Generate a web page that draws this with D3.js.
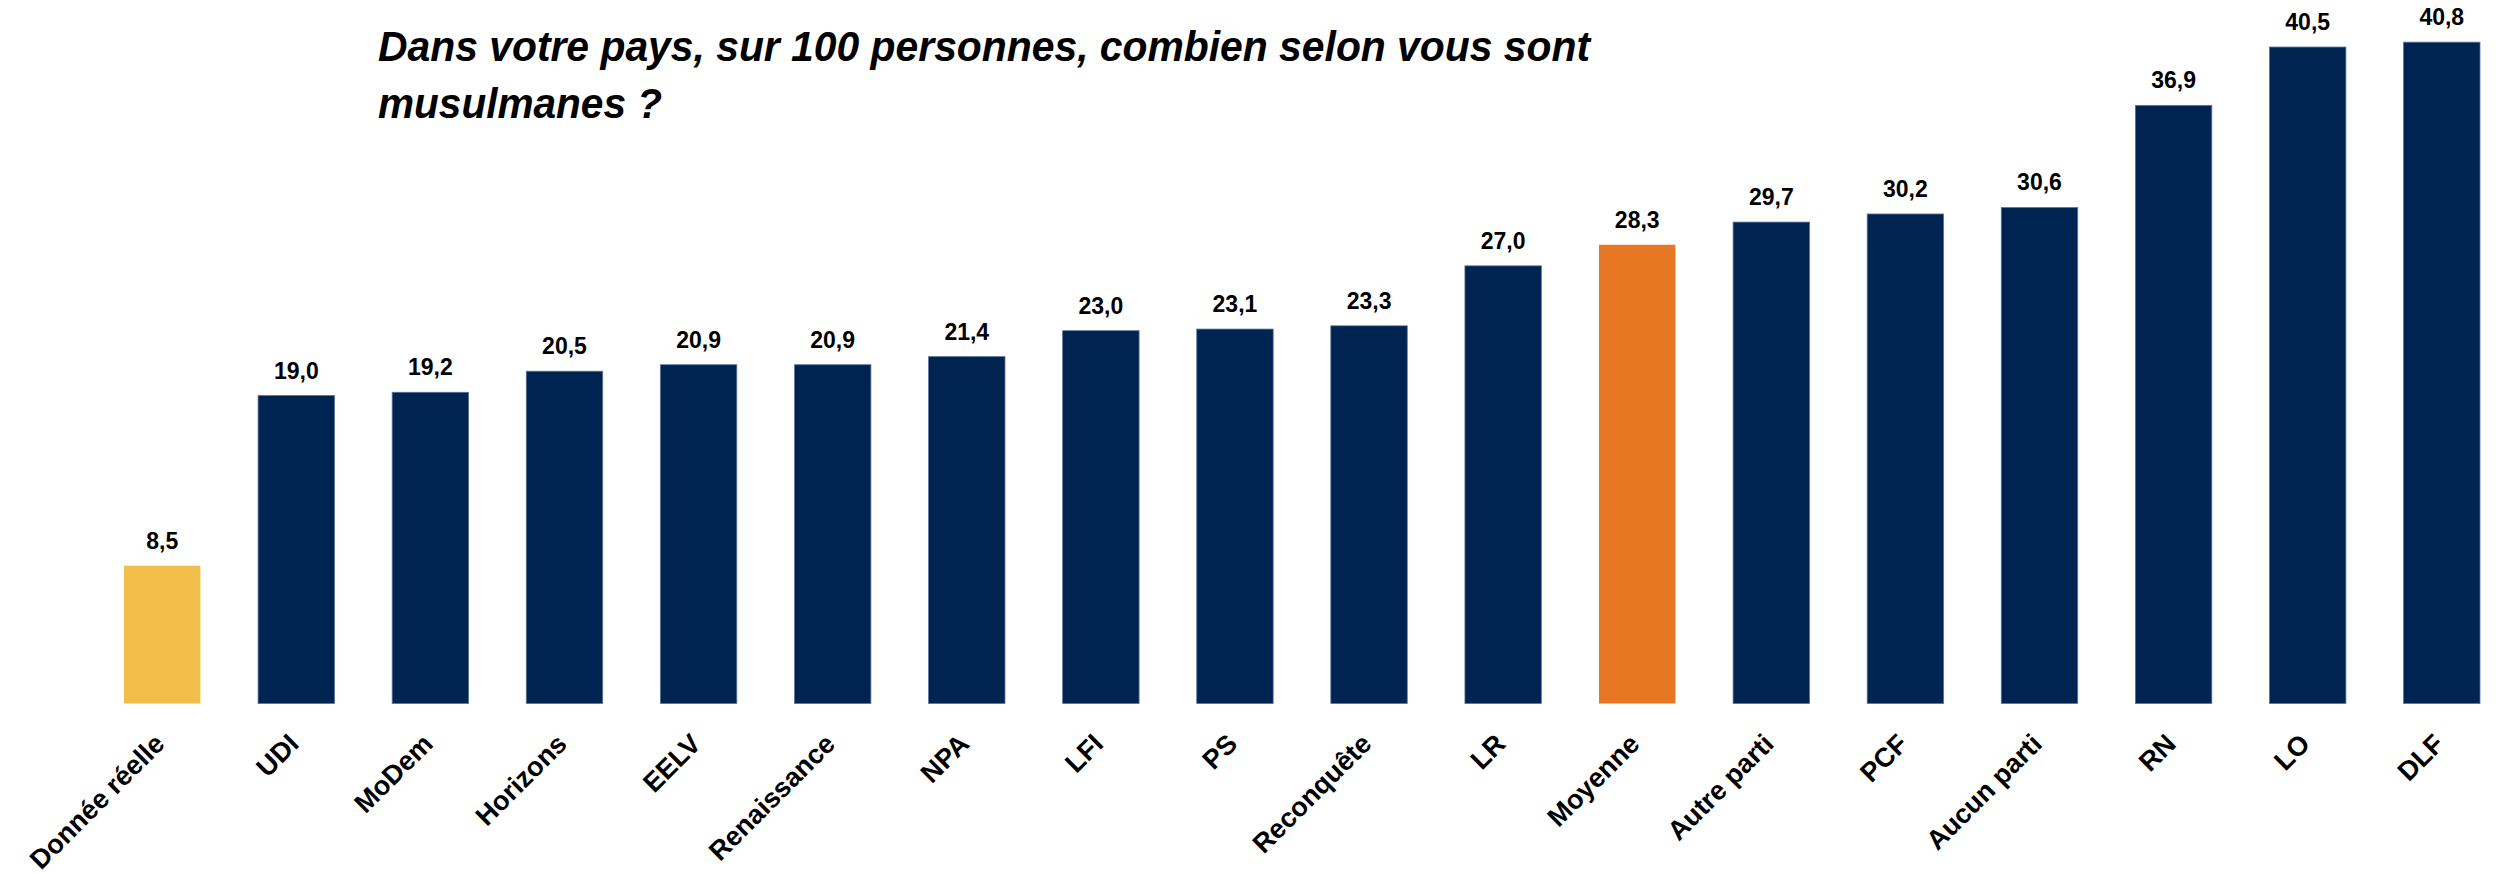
<!DOCTYPE html>
<html>
<head>
<meta charset="utf-8">
<script src="https://cdn.jsdelivr.net/npm/d3@7"></script>
<style>
  html, body { margin: 0; padding: 0; background: #fff; }
  svg { display: block; }
</style>
</head>
<body>
<svg id="chart" width="2501" height="874"></svg>
<script>
// categories and values
const categories = ["Donnée réelle", "UDI", "MoDem", "Horizons", "EELV", "Renaissance", "NPA", "LFI", "PS",
    "Reconquête", "LR", "Moyenne", "Autre parti", "PCF", "Aucun parti", "RN", "LO", "DLF"];
const values = [8.5, 19.0, 19.2, 20.5, 20.9, 20.9, 21.4, 23.0, 23.1, 23.3, 27.0, 28.3, 29.7, 30.2, 30.6, 36.9, 40.5, 40.8];
const titleLines = ["Dans votre pays, sur 100 personnes, combien selon vous sont", "musulmanes ?"];

const dados = categories.map((c, i) => ({ parti: c, valeur: values[i] }));

const svg = d3.select("#chart");

const x = d3.scaleBand()
    .domain(categories)
    .range([124, 2480])
    .paddingInner(0.43)
    .paddingOuter(0);

const y = d3.scaleLinear()
    .domain([0, 43])
    .range([703.5, 6.5]);

// couleurs: donnée réelle en jaune, moyenne en orange, le reste en bleu marine
const cor = (d) => d.parti == "Donnée réelle" ? "#F0BE49" : (d.parti == "Moyenne" ? "#E77722" : "#002452");
const borda = (d) => d.parti == "Donnée réelle" || d.parti == "Moyenne" ? "none" : "#5b7299";

const fr = d3.formatLocale({ decimal: ",", thousands: " ", grouping: [3], currency: ["", " €"] });
const fmt = fr.format(".1f");

svg.selectAll("rect.barra")
    .data(dados)
    .enter().append("rect")
    .attr("class", "barra")
    .attr("x", d => x(d.parti))
    .attr("y", d => y(d.valeur))
    .attr("width", x.bandwidth())
    .attr("height", d => y(0) - y(d.valeur))
    .attr("fill", cor)
    .attr("stroke", borda)
    .attr("stroke-width", 0.8);

svg.selectAll("text.valor")
    .data(dados)
    .enter().append("text")
    .attr("class", "valor")
    .attr("x", d => x(d.parti) + x.bandwidth() / 2)
    .attr("y", d => y(d.valeur) - 17)
    .attr("text-anchor", "middle")
    .style("font-family", "'Liberation Sans', Arial, sans-serif")
    .style("font-weight", "bold")
    .style("font-size", "23px")
    .style("fill", "#000")
    .text(d => fmt(d.valeur));

svg.selectAll("text.rotulo")
    .data(dados)
    .enter().append("text")
    .attr("class", "rotulo")
    .attr("transform", d => "translate(" + (x(d.parti) + x.bandwidth() / 2 + 4) + "," + (y(0) + 42) + ") rotate(-45)")
    .attr("text-anchor", "end")
    .style("font-family", "'Liberation Sans', Arial, sans-serif")
    .style("font-weight", "bold")
    .style("font-size", "27px")
    .style("fill", "#000")
    .text(d => d.parti);

// titre
const titulo = svg.append("g")
    .style("font-family", "'Liberation Sans', Arial, sans-serif")
    .style("font-weight", "bold")
    .style("font-style", "italic")
    .style("font-size", "42px")
    .style("fill", "#000");
titulo.append("text")
    .attr("x", 378).attr("y", 61)
    .attr("textLength", 1212)
    .attr("lengthAdjust", "spacingAndGlyphs")
    .text(titleLines[0]);
titulo.append("text")
    .attr("x", 378).attr("y", 118)
    .attr("textLength", 284)
    .attr("lengthAdjust", "spacingAndGlyphs")
    .text(titleLines[1]);
</script>
</body>
</html>
